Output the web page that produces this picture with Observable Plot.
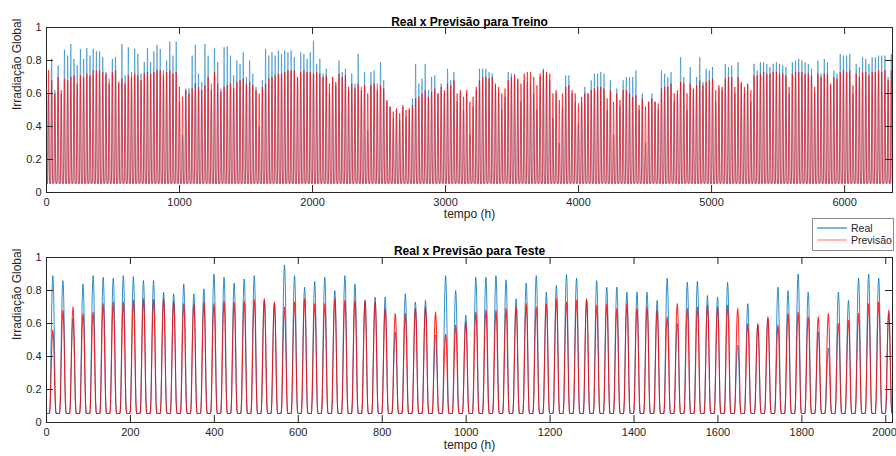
<!DOCTYPE html>
<html>
<head>
<meta charset="utf-8">
<script src="https://cdn.jsdelivr.net/npm/d3@7"></script>
<script src="https://cdn.jsdelivr.net/npm/@observablehq/plot@0.6"></script>
<style>
  body { margin: 0; background: #fff; }
  #wrap { position: relative; width: 896px; height: 456px; overflow: hidden; background: #fff;
          font-family: "Liberation Sans", Arial, Helvetica, sans-serif; }
  #top, #bottom { position: absolute; left: 0; }
  #top { top: 0; }
  #bottom { top: 228px; }
  #legend { position: absolute; left: 812px; top: 218px; width: 80px; height: 31px;
            border: 1px solid #8c8c8c; background: #fff; }
</style>
</head>
<body>
<div id="wrap">
  <div id="top"></div>
  <div id="bottom"></div>
  <div id="legend">
    <svg width="80" height="31" style="display:block">
      <line x1="4" x2="34" y1="9" y2="9" stroke="#0072BD" stroke-width="1"></line>
      <text x="38" y="12.5" font-size="10.5" fill="#262626" font-family="Liberation Sans, Arial, sans-serif">Real</text>
      <line x1="4" x2="34" y1="21" y2="21" stroke="#ff0000" stroke-opacity="0.55" stroke-width="1"></line>
      <text x="38" y="24.5" font-size="10.5" fill="#262626" font-family="Liberation Sans, Arial, sans-serif">Previsão</text>
    </svg>
  </div>
</div>
<script>
// ---------- data ----------
const titleTrain = "Real x Previsão para Treino";
const titleTest = "Real x Previsão para Teste";
const xLabel = "tempo (h)";
const yLabel = "Irradiação Global";
const seriesNames = ["Real", "Previsão"];

const xTicksTrain = [0, 1000, 2000, 3000, 4000, 5000, 6000];
const xTicksTest = [0, 200, 400, 600, 800, 1000, 1200, 1400, 1600, 1800, 2000];
const yTicks = [0, 0.2, 0.4, 0.6, 0.8, 1];
const xMaxTrain = 6360;
const xMaxTest = 2016;

// night-time level of each series
const realNight = 0.055;
const predNight = 0.055;

// shape of one day (fraction of the daily peak above the night level), hours 0..23
const dayProfile = [0, 0, 0, 0, 0, 0, 0, 0.03, 0.12, 0.3, 0.5, 0.7, 0.86, 0.96, 1, 0.97, 0.87, 0.7, 0.48, 0.26, 0.1, 0.02, 0, 0];

// daily peaks - training set (265 days)
const trainReal = [
  0.60, 0.81, 0.62, 0.77, 0.60, 0.865, 0.83, 0.90, 0.81, 0.77,
  0.87, 0.81, 0.875, 0.83, 0.87, 0.855, 0.855, 0.82, 0.73, 0.69,
  0.81, 0.82, 0.66, 0.90, 0.71, 0.88, 0.73, 0.87, 0.84, 0.72,
  0.79, 0.875, 0.79, 0.855, 0.895, 0.87, 0.74, 0.80, 0.915, 0.83,
  0.915, 0.55, 0.35, 0.63, 0.63, 0.83, 0.895, 0.72, 0.67, 0.90,
  0.83, 0.66, 0.875, 0.79, 0.63, 0.88, 0.885, 0.83, 0.71, 0.80,
  0.78, 0.85, 0.70, 0.80, 0.72, 0.64, 0.40, 0.68, 0.87, 0.83,
  0.85, 0.83, 0.86, 0.84, 0.86, 0.85, 0.86, 0.82, 0.70, 0.85,
  0.84, 0.81, 0.85, 0.92, 0.78, 0.81, 0.72, 0.75, 0.60, 0.70,
  0.65, 0.80, 0.73, 0.75, 0.62, 0.72, 0.66, 0.84, 0.64, 0.73,
  0.38, 0.73, 0.74, 0.66, 0.79, 0.68, 0.55, 0.52, 0.45, 0.50,
  0.44, 0.53, 0.46, 0.50, 0.57, 0.78, 0.66, 0.69, 0.78, 0.62,
  0.70, 0.71, 0.60, 0.66, 0.60, 0.75, 0.68, 0.73, 0.55, 0.60,
  0.50, 0.60, 0.35, 0.52, 0.62, 0.75, 0.75, 0.75, 0.73, 0.72,
  0.65, 0.60, 0.50, 0.58, 0.73, 0.72, 0.72, 0.68, 0.55, 0.68,
  0.67, 0.66, 0.60, 0.50, 0.70, 0.75, 0.72, 0.68, 0.45, 0.60,
  0.30, 0.52, 0.71, 0.71, 0.60, 0.55, 0.42, 0.55, 0.64, 0.60,
  0.68, 0.72, 0.72, 0.73, 0.72, 0.50, 0.68, 0.35, 0.63, 0.52,
  0.68, 0.70, 0.70, 0.70, 0.74, 0.50, 0.60, 0.30, 0.55, 0.60,
  0.55, 0.50, 0.74, 0.72, 0.70, 0.73, 0.55, 0.60, 0.82, 0.70,
  0.50, 0.76, 0.62, 0.70, 0.82, 0.67, 0.75, 0.74, 0.76, 0.55,
  0.63, 0.62, 0.78, 0.76, 0.77, 0.60, 0.79, 0.66, 0.60, 0.65,
  0.55, 0.78, 0.74, 0.79, 0.79, 0.78, 0.76, 0.78, 0.79, 0.78,
  0.77, 0.76, 0.60, 0.79, 0.80, 0.81, 0.80, 0.79, 0.78, 0.75,
  0.60, 0.80, 0.72, 0.81, 0.79, 0.65, 0.74, 0.72, 0.84, 0.83,
  0.83, 0.84, 0.60, 0.78, 0.76, 0.82, 0.81, 0.78, 0.82, 0.82,
  0.83, 0.83, 0.83, 0.70, 0.84
];
const trainPred = [
  0.74, 0.68, 0.60, 0.70, 0.62, 0.69, 0.68, 0.70, 0.71, 0.66,
  0.71, 0.70, 0.72, 0.71, 0.74, 0.74, 0.74, 0.73, 0.72, 0.66,
  0.73, 0.74, 0.67, 0.69, 0.66, 0.71, 0.70, 0.72, 0.71, 0.68,
  0.72, 0.73, 0.72, 0.73, 0.74, 0.74, 0.71, 0.73, 0.74, 0.72,
  0.73, 0.64, 0.58, 0.62, 0.60, 0.63, 0.66, 0.64, 0.62, 0.65,
  0.70, 0.62, 0.73, 0.66, 0.61, 0.64, 0.65, 0.66, 0.63, 0.67,
  0.68, 0.69, 0.66, 0.67, 0.65, 0.62, 0.60, 0.64, 0.66, 0.69,
  0.70, 0.71, 0.72, 0.72, 0.73, 0.74, 0.74, 0.74, 0.70, 0.73,
  0.74, 0.73, 0.73, 0.72, 0.73, 0.72, 0.70, 0.71, 0.66, 0.70,
  0.67, 0.72, 0.70, 0.71, 0.64, 0.66, 0.63, 0.66, 0.62, 0.65,
  0.60, 0.65, 0.66, 0.62, 0.65, 0.63, 0.56, 0.52, 0.49, 0.51,
  0.48, 0.52, 0.50, 0.51, 0.53, 0.57, 0.58, 0.60, 0.62, 0.58,
  0.61, 0.63, 0.60, 0.64, 0.62, 0.66, 0.65, 0.68, 0.60, 0.62,
  0.58, 0.62, 0.55, 0.58, 0.64, 0.68, 0.70, 0.70, 0.69, 0.70,
  0.66, 0.64, 0.60, 0.63, 0.68, 0.70, 0.71, 0.69, 0.66, 0.72,
  0.73, 0.73, 0.70, 0.65, 0.72, 0.74, 0.73, 0.72, 0.60, 0.62,
  0.56, 0.60, 0.64, 0.65, 0.62, 0.60, 0.54, 0.58, 0.60, 0.60,
  0.62, 0.63, 0.64, 0.64, 0.63, 0.57, 0.62, 0.55, 0.60, 0.56,
  0.62, 0.62, 0.60, 0.58, 0.59, 0.53, 0.57, 0.52, 0.55, 0.57,
  0.55, 0.54, 0.63, 0.64, 0.64, 0.66, 0.60, 0.62, 0.67, 0.66,
  0.60, 0.66, 0.63, 0.65, 0.68, 0.65, 0.67, 0.68, 0.69, 0.62,
  0.65, 0.64, 0.69, 0.70, 0.70, 0.64, 0.70, 0.67, 0.64, 0.66,
  0.62, 0.71, 0.71, 0.72, 0.73, 0.72, 0.72, 0.73, 0.73, 0.72,
  0.72, 0.71, 0.64, 0.72, 0.73, 0.73, 0.73, 0.72, 0.72, 0.71,
  0.64, 0.72, 0.70, 0.72, 0.72, 0.66, 0.70, 0.69, 0.73, 0.74,
  0.73, 0.74, 0.65, 0.72, 0.70, 0.73, 0.73, 0.71, 0.73, 0.73,
  0.74, 0.73, 0.74, 0.68, 0.74
];

// daily peaks - test set (84 days)
const testReal = [
  0.89, 0.86, 0.63, 0.84, 0.89, 0.88, 0.875, 0.89, 0.885, 0.86,
  0.86, 0.79, 0.78, 0.84, 0.78, 0.81, 0.90, 0.88, 0.845, 0.87,
  0.89, 0.74, 0.72, 0.955, 0.89, 0.82, 0.855, 0.88, 0.80, 0.89,
  0.84, 0.74, 0.76, 0.76, 0.55, 0.78, 0.73, 0.74, 0.53, 0.89,
  0.80, 0.65, 0.88, 0.88, 0.89, 0.865, 0.75, 0.845, 0.89, 0.79,
  0.83, 0.895, 0.875, 0.74, 0.86, 0.82, 0.82, 0.79, 0.79, 0.79,
  0.74, 0.875, 0.60, 0.85, 0.855, 0.77, 0.76, 0.85, 0.47, 0.72,
  0.59, 0.63, 0.82, 0.80, 0.90, 0.79, 0.55, 0.45, 0.79, 0.74,
  0.875, 0.90, 0.875, 0.66
];
const testPred = [
  0.56, 0.68, 0.70, 0.66, 0.67, 0.72, 0.73, 0.73, 0.74, 0.75,
  0.745, 0.75, 0.735, 0.72, 0.72, 0.73, 0.72, 0.735, 0.73, 0.735,
  0.745, 0.75, 0.73, 0.70, 0.73, 0.75, 0.72, 0.72, 0.75, 0.74,
  0.74, 0.74, 0.73, 0.69, 0.66, 0.66, 0.69, 0.70, 0.67, 0.535,
  0.59, 0.61, 0.67, 0.68, 0.68, 0.69, 0.70, 0.72, 0.70, 0.72,
  0.75, 0.73, 0.74, 0.75, 0.71, 0.72, 0.69, 0.72, 0.69, 0.70,
  0.68, 0.64, 0.72, 0.69, 0.70, 0.71, 0.70, 0.71, 0.69, 0.60,
  0.60, 0.64, 0.59, 0.66, 0.67, 0.64, 0.64, 0.66, 0.60, 0.62,
  0.66, 0.72, 0.73, 0.68
];

// ---------- hourly tables built from the daily values ----------
function hourly(peaks, night) {
  return peaks.flatMap((p, d) => dayProfile.map((f, h) => ({t: d * 24 + h + 1, v: night + (p - night) * f})));
}

const FONT = "Liberation Sans, Arial, Helvetica, sans-serif";
const AXIS = "#262626";
const TL = 7; // tick length (px)

function chart({real, pred, xMax, xTicks, title, mt, mb, titleDy, labelDy, lwReal, lwPred, opPred}) {
  const W = 896, H = 228, ml = 46, mr = 4;
  const ih = H - mt - mb, iw = W - ml - mr;
  const lastTick = xTicks[xTicks.length - 1];
  const edgeTick = (xMax - lastTick) / xMax * iw < 14;
  const mainTicks = edgeTick ? xTicks.slice(0, -1) : xTicks;
  return Plot.plot({
    width: W, height: H,
    marginLeft: ml, marginRight: mr, marginTop: mt, marginBottom: mb,
    style: {fontFamily: FONT, fontSize: "11px", color: AXIS, background: "#fff", overflow: "visible"},
    x: {domain: [0, xMax]},
    y: {domain: [0, 1]},
    marks: [
      Plot.line(real, {x: "t", y: "v", stroke: "#0072BD", strokeWidth: lwReal}),
      Plot.line(pred, {x: "t", y: "v", stroke: "#ff0000", strokeOpacity: opPred, strokeWidth: lwPred}),
      Plot.frame({stroke: AXIS, strokeWidth: 1}),
      Plot.tickX(xTicks, {x: d => d, insetTop: ih - TL, stroke: AXIS}),
      Plot.tickX(xTicks, {x: d => d, insetBottom: ih - TL, stroke: AXIS}),
      Plot.tickY(yTicks, {y: d => d, insetRight: iw - TL, stroke: AXIS}),
      Plot.tickY(yTicks, {y: d => d, insetLeft: iw - TL, stroke: AXIS}),
      Plot.axisX(mainTicks, {tickSize: 0, tickPadding: 6, tickFormat: d => String(d), label: null, fill: AXIS}),
      edgeTick ? Plot.axisX([lastTick], {tickSize: 0, tickPadding: 6, tickFormat: d => String(d), label: null, fill: AXIS, textAnchor: "end", dx: 11}) : null,
      Plot.axisY(yTicks, {tickSize: 0, tickPadding: 5, tickFormat: d => String(d), label: null, fill: AXIS}),
      Plot.text([title], {text: d => d, frameAnchor: "top", dy: titleDy, fontWeight: "bold", fontSize: 12, fill: "#000"}),
      Plot.text([xLabel], {text: d => d, frameAnchor: "bottom", dy: labelDy, fontSize: 12, fill: AXIS}),
      Plot.text([yLabel], {text: d => d, frameAnchor: "left", dx: -29, rotate: -90, fontSize: 12, fill: AXIS})
    ]
  });
}

document.getElementById("top").appendChild(chart({
  real: hourly(trainReal, realNight), pred: hourly(trainPred, predNight),
  xMax: xMaxTrain, xTicks: xTicksTrain, title: titleTrain,
  mt: 27, mb: 36, titleDy: -10, labelDy: 25, lwReal: 0.5, lwPred: 0.8, opPred: 0.8
}));
document.getElementById("bottom").appendChild(chart({
  real: hourly(testReal, realNight), pred: hourly(testPred, predNight),
  xMax: xMaxTest, xTicks: xTicksTest, title: titleTest,
  mt: 29, mb: 34, titleDy: -11, labelDy: 26, lwReal: 0.8, lwPred: 1.1, opPred: 0.8
}));
</script>
</body>
</html>
